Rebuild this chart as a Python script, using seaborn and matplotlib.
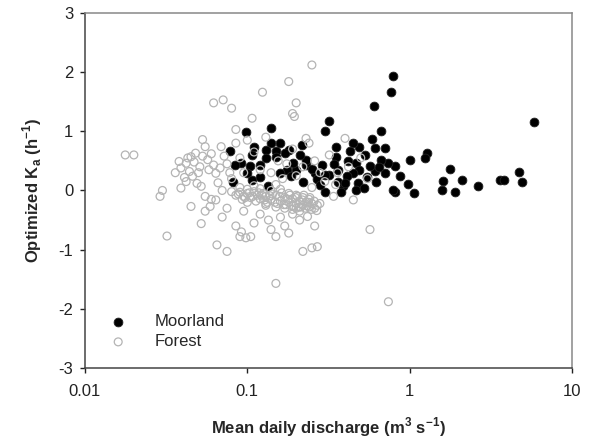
import matplotlib
matplotlib.use("Agg")
import matplotlib.pyplot as plt
import seaborn as sns
import numpy as np
from matplotlib.ticker import FixedLocator, FixedFormatter, NullLocator

# ---------------- data ----------------
moor_x = [0.79, 0.77, 0.60, 5.8, 0.32, 0.30, 0.67, 0.14, 0.098, 0.59, 0.078, 1.28, 1.25, 1.01,
          1.78, 1.6, 1.58, 1.9, 2.1, 2.62, 3.6, 3.8, 4.7, 4.96, 1.06, 0.98, 0.81, 0.79, 0.87,
          0.81, 0.74, 0.71, 0.62, 0.61, 0.71, 0.61, 0.67, 0.57, 0.53, 0.49, 0.45, 0.43, 0.47,
          0.49, 0.48, 0.47, 0.45, 0.41, 0.39, 0.38, 0.36, 0.36, 0.35, 0.35, 0.32, 0.30, 0.29,
          0.30, 0.26, 0.23, 0.23, 0.217, 0.20, 0.19, 0.18, 0.17, 0.16, 0.15, 0.15, 0.14, 0.13,
          0.12, 0.11, 0.107, 0.104, 0.099, 0.107, 0.092, 0.084, 0.082, 0.135, 0.175,
          0.21, 0.25, 0.27, 0.28, 0.12, 0.13, 0.16, 0.185, 0.22, 0.34, 0.42, 0.55, 0.65, 0.52, 0.40]
moor_y = [1.93, 1.67, 1.42, 1.15, 1.17, 1.01, 1.0, 1.05, 0.98, 0.87, 0.66, 0.63, 0.55, 0.51,
          0.37, 0.16, 0.01, -0.03, 0.18, 0.08, 0.17, 0.18, 0.31, 0.15, -0.05, 0.11, -0.03, 0.01,
          0.24, 0.42, 0.46, 0.29, 0.14, 0.33, 0.72, 0.72, 0.52, 0.41, 0.6, 0.74, 0.8, 0.66, 0.46,
          0.35, 0.12, 0.01, 0.29, 0.24, 0.07, -0.02, 0.15, 0.35, 0.57, 0.74, 0.26, 0.26, 0.43,
          -0.02, 0.29, 0.43, 0.52, 0.77, 0.35, 0.46, 0.69, 0.63, 0.8, 0.66, 0.57, 0.8, 0.69,
          0.43, 0.74, 0.6, 0.41, 0.29, 0.18, 0.46, 0.43, 0.15, 0.07, 0.35,
          0.6, 0.37, 0.2, 0.1, 0.22, 0.55, 0.3, 0.25, 0.15, 0.45, 0.5, 0.22, 0.4, 0.05, 0.12]

forest_x = [
    # outliers
    0.0177, 0.020, 0.032, 0.029, 0.030, 0.045, 0.052, 0.065, 0.075, 0.062, 0.071, 0.080,
    0.124, 0.18, 0.25, 0.19, 0.20, 0.195, 0.107, 0.085, 0.23, 0.40, 0.15, 0.22, 0.25, 0.27,
    0.57, 0.74, 0.45, 0.34,
    # lower middle
    0.092, 0.098, 0.105, 0.09, 0.135, 0.14, 0.15, 0.18, 0.19, 0.21, 0.235, 0.085, 0.11, 0.12,
    0.16, 0.17, 0.07, 0.075, 0.095, 0.13, 0.2, 0.26, 0.1, 0.06, 0.055,
    # left cluster
    0.038, 0.039, 0.042, 0.045, 0.048, 0.053, 0.055, 0.051, 0.057, 0.058, 0.062, 0.064, 0.042,
    0.046, 0.052, 0.055, 0.059, 0.064, 0.036, 0.039, 0.044, 0.053, 0.072, 0.069, 0.066, 0.07,
    0.08, 0.075, 0.085, 0.09, 0.041, 0.047, 0.05, 0.06, 0.068, 0.078, 0.043, 0.049,
    # centre cluster
    0.1, 0.11, 0.12, 0.13, 0.14, 0.155, 0.165, 0.175, 0.19, 0.2, 0.22, 0.24, 0.26, 0.28, 0.3,
    0.32, 0.36, 0.42, 0.5, 0.55, 0.095, 0.15, 0.25, 0.35,
    # dense band
    0.08, 0.085, 0.09, 0.095, 0.1, 0.105, 0.11, 0.115, 0.12, 0.125, 0.13, 0.14, 0.15, 0.16,
    0.17, 0.18, 0.19, 0.2, 0.21, 0.22, 0.23, 0.24, 0.25, 0.26, 0.27, 0.09, 0.1, 0.11, 0.12,
    0.14, 0.16, 0.18, 0.2, 0.22, 0.24, 0.13, 0.15, 0.17, 0.19, 0.21,
    0.088, 0.097, 0.108, 0.118, 0.128, 0.138, 0.148, 0.158, 0.168, 0.178, 0.188, 0.198,
    0.208, 0.218, 0.228, 0.238, 0.248, 0.258, 0.268, 0.28, 0.093, 0.103, 0.113, 0.123,
    0.133, 0.143, 0.153, 0.163, 0.173, 0.183, 0.193, 0.203, 0.213, 0.223, 0.233, 0.243]
forest_y = [
    0.6, 0.6, -0.77, -0.1, 0.0, -0.27, -0.56, -0.92, -1.03, 1.48, 1.53, 1.39,
    1.66, 1.84, 2.12, 1.3, 1.48, 1.25, 1.22, 1.03, 0.88, 0.88, -1.57, -1.03, -0.97, -0.95,
    -0.66, -1.88, -0.16, -0.1,
    -0.7, -0.8, -0.78, -0.78, -0.5, -0.66, -0.78, -0.72, -0.4, -0.5, -0.44, -0.6, -0.55, -0.4,
    -0.45, -0.6, -0.45, -0.3, -0.35, -0.25, -0.3, -0.6, -0.2, -0.15, -0.35,
    0.49, 0.38, 0.46, 0.57, 0.63, 0.86, 0.74, 0.4, 0.52, 0.35, 0.43, 0.29, 0.15,
    0.24, 0.07, -0.1, -0.27, -0.16, 0.3, 0.04, 0.32, 0.58, 0.58, 0.74, 0.13, 0.0,
    0.2, 0.45, 0.8, 0.55, 0.22, 0.48, 0.3, 0.62, 0.38, 0.3, 0.55, 0.12,
    0.85, 0.65, 0.35, 0.9, 0.3, 0.5, 0.2, 0.45, 0.7, 0.25, 0.4, 0.8, 0.5, 0.3, 0.15,
    0.6, 0.3, 0.4, 0.55, 0.2, 0.3, 0.1, 0.05, 0.1,
    -0.02, -0.08, -0.03, -0.1, -0.05, -0.12, -0.02, -0.08, -0.14, -0.05, -0.1, -0.15, -0.08,
    -0.18, -0.12, -0.2, -0.14, -0.22, -0.18, -0.25, -0.2, -0.28, -0.22, -0.3, -0.25, 0.05,
    0.02, 0.08, 0.03, 0.0, 0.02, -0.05, -0.08, -0.12, -0.15, -0.22, -0.28, -0.3, -0.32, -0.35,
    -0.06, -0.12, -0.1, -0.04, -0.16, -0.09, -0.2, -0.1, -0.24, -0.15, -0.26, -0.12,
    -0.28, -0.16, -0.3, -0.2, -0.32, -0.18, -0.34, -0.22, -0.15, -0.04, -0.18, -0.08,
    -0.2, -0.06, -0.22, -0.04, -0.24, -0.08, -0.26, -0.1, -0.28, -0.08, -0.26, -0.12]

x_ticks = [0.01, 0.1, 1, 10]
x_tick_labels = ["0.01", "0.1", "1", "10"]
y_ticks = [-3, -2, -1, 0, 1, 2, 3]
y_tick_labels = ["-3", "-2", "-1", "0", "1", "2", "3"]

# ---------------- style ----------------
sns.set_style("ticks")
plt.rcParams["font.family"] = ["Liberation Sans", "DejaVu Sans"]
plt.rcParams["axes.unicode_minus"] = False
plt.rcParams["mathtext.fontset"] = "custom"
plt.rcParams["mathtext.rm"] = "Liberation Sans"
plt.rcParams["mathtext.bf"] = "Liberation Sans:bold"

fig = plt.figure(figsize=(5.89, 4.45), dpi=100)
ax = fig.add_axes([0.1443, 0.173, 0.971 - 0.1443, 0.971 - 0.173])

sns.scatterplot(x=moor_x, y=moor_y, ax=ax, color="black", edgecolor="#222222",
                linewidth=0.6, s=40, marker="o", label="Moorland", zorder=2)
sns.scatterplot(x=forest_x, y=forest_y, ax=ax, color="none", edgecolor="#b4b4b4",
                linewidth=0.9, s=32, marker="o", label="Forest", zorder=3)

ax.set_xscale("log")
ax.set_xlim(0.01, 10)
ax.set_ylim(-3, 3)
ax.xaxis.set_major_locator(FixedLocator(x_ticks))
ax.xaxis.set_major_formatter(FixedFormatter(x_tick_labels))
ax.xaxis.set_minor_locator(NullLocator())
ax.yaxis.set_major_locator(FixedLocator(y_ticks))
ax.yaxis.set_major_formatter(FixedFormatter(y_tick_labels))

ax.tick_params(axis="both", direction="out", length=3.5, width=1, labelsize=12,
               colors="#222222", pad=5)
ax.tick_params(axis="x", pad=8)

for side in ["left", "bottom"]:
    ax.spines[side].set_color("#444444")
    ax.spines[side].set_linewidth(1.1)
for side in ["top", "right"]:
    ax.spines[side].set_visible(True)
    ax.spines[side].set_color("#888888")
    ax.spines[side].set_linewidth(1.1)

ax.set_xlabel(r"Mean daily discharge (m$^{\mathbf{3}}$ s$^{\mathbf{-1}}$)",
              fontsize=12, fontweight="bold", labelpad=12)
ax.set_ylabel(r"Optimized K$_{\mathbf{a}}$ (h$^{\mathbf{-1}}$)",
              fontsize=12, fontweight="bold", labelpad=10)

leg = ax.legend(loc="lower left", frameon=False, fontsize=12, handletextpad=1.2,
                borderaxespad=0.3, bbox_to_anchor=(0.01, 0.02), labelspacing=0.3)

fig.savefig("out.png", dpi=100)
